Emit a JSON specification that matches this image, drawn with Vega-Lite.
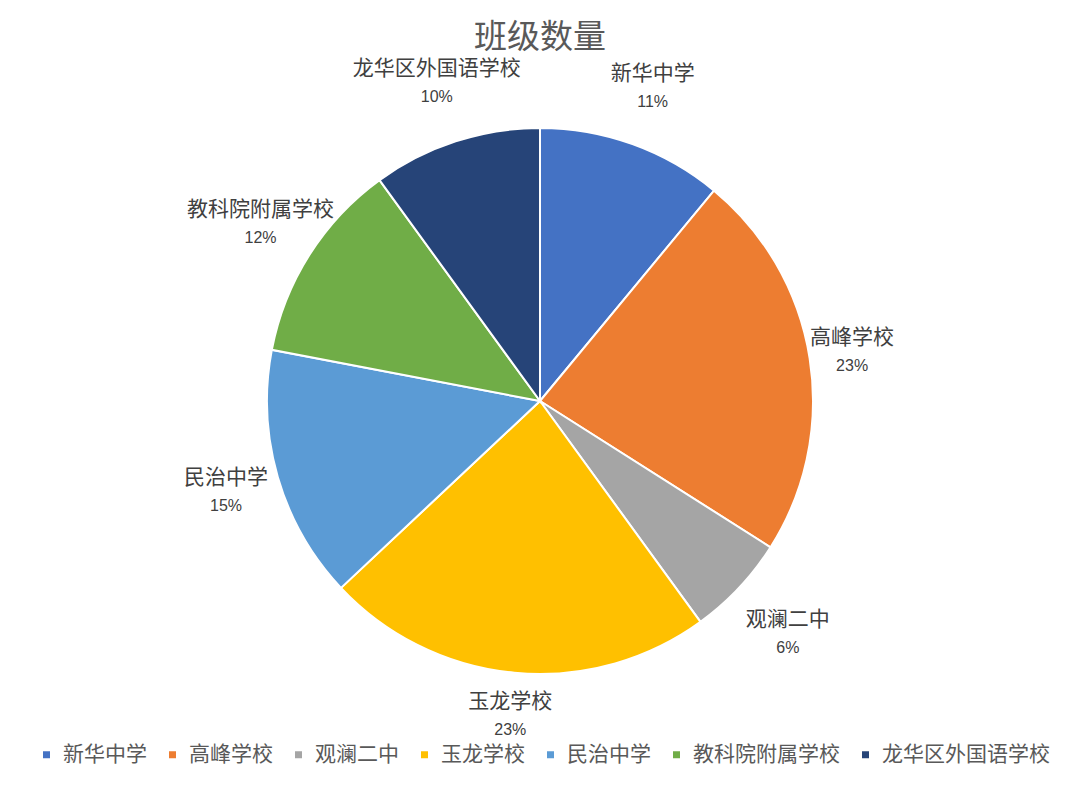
{
  "$schema": "https://vega.github.io/schema/vega-lite/v6.json",
  "width": 1080,
  "height": 652,
  "autosize": "none",
  "padding": {"top": 75, "bottom": 62, "left": 0, "right": 0},
  "background": "white",
  "config": {
    "view": {"stroke": null},
    "font": "Noto Sans CJK SC"
  },
  "title": {
    "text": "班级数量",
    "fontSize": 33,
    "fontWeight": "normal",
    "color": "#595959",
    "anchor": "middle",
    "frame": "group",
    "offset": 3
  },
  "data": {
    "values": [
      {"school": "新华中学", "share": 0.11},
      {"school": "高峰学校", "share": 0.23},
      {"school": "观澜二中", "share": 0.06},
      {"school": "玉龙学校", "share": 0.23},
      {"school": "民治中学", "share": 0.15},
      {"school": "教科院附属学校", "share": 0.12},
      {"school": "龙华区外国语学校", "share": 0.10}
    ]
  },
  "transform": [
    {"window": [{"op": "row_number", "as": "idx"}]}
  ],
  "encoding": {
    "theta": {"field": "share", "type": "quantitative", "stack": true},
    "order": {"field": "idx", "type": "quantitative"}
  },
  "layer": [
    {
      "mark": {"type": "arc", "outerRadius": 273, "stroke": "white", "strokeWidth": 2},
      "encoding": {
        "color": {
          "field": "school",
          "type": "nominal",
          "scale": {
            "domain": ["新华中学", "高峰学校", "观澜二中", "玉龙学校", "民治中学", "教科院附属学校", "龙华区外国语学校"],
            "range": ["#4472C4", "#ED7D31", "#A5A5A5", "#FFC000", "#5B9BD5", "#70AD47", "#264478"]
          },
          "legend": {
            "title": null,
            "orient": "none",
            "legendX": 36,
            "legendY": 669,
            "direction": "horizontal",
            "symbolType": "square",
            "symbolSize": 49,
            "symbolStrokeWidth": 0,
            "labelFontSize": 21,
            "labelColor": "#595959",
            "labelOffset": 6,
            "columnPadding": 15,
            "labelLimit": 300
          }
        }
      }
    },
    {
      "mark": {"type": "text", "dy": -14, "fontSize": 21, "color": "#404040"},
      "encoding": {
        "text": {"field": "school", "type": "nominal"},
        "radius": {"field": "share", "type": "quantitative", "scale": {"type": "linear", "domain": [0.06, 0.12, 0.23], "range": [340, 331, 316], "zero": false}}
      }
    },
    {
      "mark": {"type": "text", "dy": 14, "fontSize": 16, "color": "#404040", "font": "Liberation Sans"},
      "encoding": {
        "text": {"field": "share", "type": "quantitative", "format": ".0%"},
        "radius": {"field": "share", "type": "quantitative", "scale": {"type": "linear", "domain": [0.06, 0.12, 0.23], "range": [340, 331, 316], "zero": false}}
      }
    }
  ]
}
